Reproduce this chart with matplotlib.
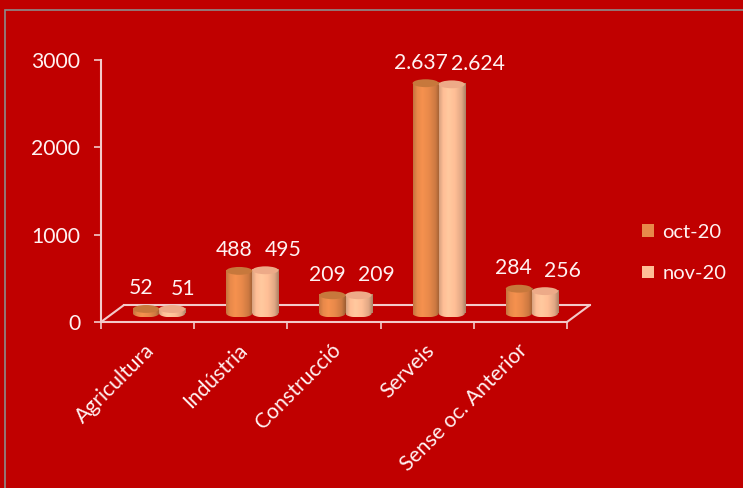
import numpy as np
import matplotlib
matplotlib.use('Agg')
import matplotlib.pyplot as plt
from matplotlib.patches import Ellipse, Patch, Rectangle
from matplotlib.transforms import ScaledTranslation

categories = ['Agricultura', 'Indústria', 'Construcció', 'Serveis', 'Sense oc. Anterior']
series_names = ['oct-20', 'nov-20']
oct_values = [52, 488, 209, 2637, 284]
nov_values = [51, 495, 209, 2624, 256]
value_labels_oct = ['52', '488', '209', '2.637', '284']
value_labels_nov = ['51', '495', '209', '2.624', '256']
y_ticks = [0, 1000, 2000, 3000]

BG = '#C00000'
AXIS = '#F3CACA'
TEXT = '#FFF2F2'
FONT = 'Lato'
FS = 15.2
oct_color = np.array([232, 137, 74]) / 255
nov_color = np.array([255, 190, 150]) / 255
oct_top = '#C7783C'
nov_top = '#EDAA88'

DPI = 100
fig = plt.figure(figsize=(7.43, 4.88), dpi=DPI, facecolor=BG)
plt.rcParams['font.family'] = [FONT, 'DejaVu Sans']

# thin grey frame of the chart area
fig.patches.append(Rectangle((5 / 743, -0.1), 1.1, 1.1 - 10 / 488,
                             transform=fig.transFigure, fill=False,
                             edgecolor='#8C8C8C', linewidth=1.2))

ax = fig.add_axes([101 / 743, (488 - 322) / 488, (567 - 101) / 743, (322 - 60) / 488])
ax.set_facecolor('none')


def shift(dx_px, dy_px):
    return ax.transData + ScaledTranslation(dx_px / DPI, dy_px / DPI, fig.dpi_scale_trans)


# floor depth and bar position inside the floor
depth = (23, 17)
bar_tr = shift(11.5, 8.5)
back_tr = shift(*depth)

n = len(categories)
x = np.arange(n)
w = 0.28
eh = 90  # ellipse height in data units

profile_t = [0.0, 0.15, 0.35, 0.6, 0.85, 1.0]
profile_f = [0.85, 1.0, 1.06, 1.0, 0.88, 0.68]


def cylinder(xc, val, base, top):
    t = np.linspace(0, 1, 40)
    f = np.interp(t, profile_t, profile_f)
    img = np.clip(base[None, :] * f[:, None], 0, 1)[None, :, :]
    x0, x1 = xc - w / 2, xc + w / 2
    ax.imshow(img, extent=[x0, x1, 0, val], transform=bar_tr, aspect='auto',
              interpolation='bilinear', zorder=3)
    bottom = Ellipse((xc, 0), w, eh, transform=bar_tr, facecolor='none', edgecolor='none')
    ax.add_patch(bottom)
    im = ax.imshow(img, extent=[x0, x1, -eh / 2, eh / 2], transform=bar_tr, aspect='auto',
                   interpolation='bilinear', zorder=3)
    im.set_clip_path(bottom)
    ax.add_patch(Ellipse((xc, val), w, eh, transform=bar_tr, facecolor=top,
                         edgecolor='none', zorder=4))


for i in range(n):
    cylinder(x[i] - w / 2, oct_values[i], oct_color, oct_top)
    cylinder(x[i] + w / 2, nov_values[i], nov_color, nov_top)
    # labels: oct centred on its bar, nov starting at its bar centre
    ax.annotate(value_labels_oct[i], (x[i] - w / 2, oct_values[i]), xycoords=bar_tr,
                xytext=(-5, 20.5), textcoords='offset pixels', ha='center', va='center',
                color=TEXT, fontsize=FS)
    ax.annotate(value_labels_nov[i], (x[i] + w / 2, nov_values[i]), xycoords=bar_tr,
                xytext=(-1, 20.5), textcoords='offset pixels', ha='left', va='center',
                color=TEXT, fontsize=FS)

# floor outline
ax.plot([-0.5, n - 0.5], [0, 0], transform=back_tr, color=AXIS, lw=1.5, clip_on=False)
for xe in [-0.5, n - 0.5]:
    ax.annotate('', xy=(xe, 0), xytext=depth, textcoords='offset pixels',
                arrowprops=dict(arrowstyle='-', color=AXIS, lw=1.5, shrinkA=0, shrinkB=0))

ax.set_xlim(-0.5, n - 0.5)
ax.set_ylim(0, 3000)
for s in ['top', 'right']:
    ax.spines[s].set_visible(False)
for s in ['left', 'bottom']:
    ax.spines[s].set_color(AXIS)
    ax.spines[s].set_linewidth(1.5)

ax.set_yticks(y_ticks)
ax.set_yticklabels([str(v) for v in y_ticks])
ax.tick_params(axis='y', colors=AXIS, labelcolor=TEXT, labelsize=FS, length=5, width=1.2, pad=10)
ax.set_xticks(np.arange(n + 1) - 0.5)
ax.set_xticklabels([])
ax.tick_params(axis='x', colors=AXIS, length=5, width=1.2)

for i, name in enumerate(categories):
    ax.annotate(name, (x[i], 0), xytext=(4, -25), textcoords='offset pixels',
                rotation=45, rotation_mode='anchor', ha='right', va='center',
                color=TEXT, fontsize=FS)

handles = [Patch(facecolor=oct_color, edgecolor='none'),
           Patch(facecolor=nov_color, edgecolor='none')]
fig.legend(handles, series_names, loc='center left', bbox_to_anchor=(624 / 743, 1 - 253 / 488),
           frameon=False, fontsize=14.5, labelcolor=TEXT, handlelength=0.6, handleheight=0.6,
           handletextpad=0.4, labelspacing=1.2)

fig.savefig('out.png', dpi=DPI, facecolor=BG)
